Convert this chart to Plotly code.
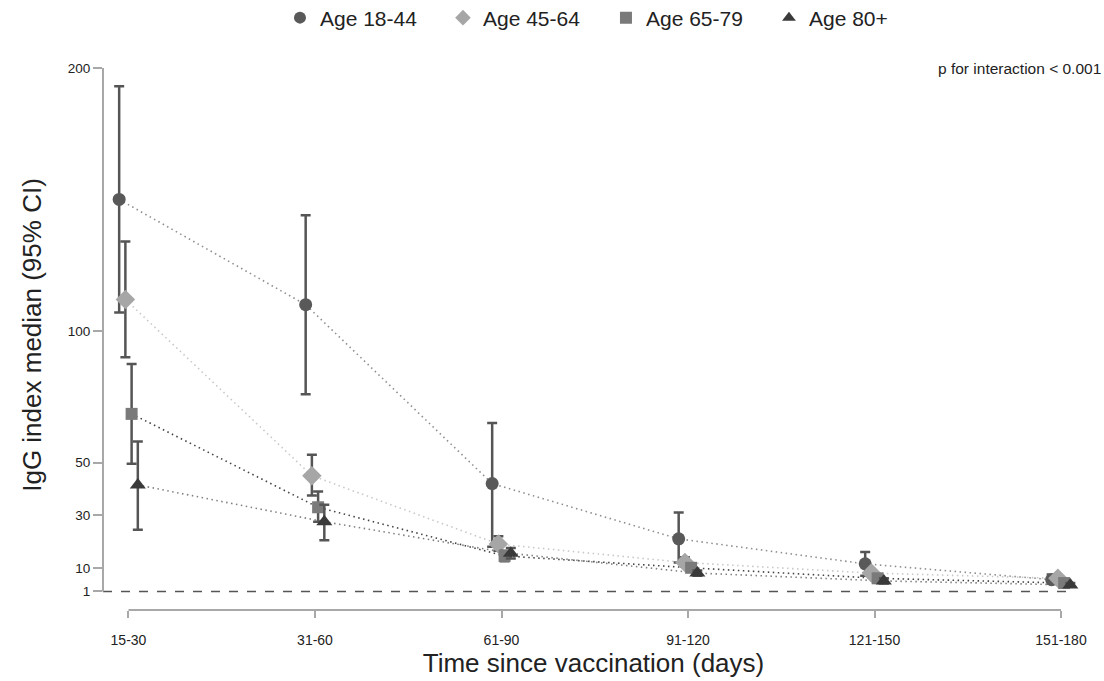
import plotly.graph_objects as go

categories = ["15-30", "31-60", "61-90", "91-120", "121-150", "151-180"]
series_names = ["Age 18-44", "Age 45-64", "Age 65-79", "Age 80+"]

med_18_44 = [150, 110, 42, 21, 11.5, 5.5]
lo_18_44 = [107, 76, 18, 12, 7, 4]
hi_18_44 = [193, 144, 65, 31, 16, 7.5]

med_45_64 = [112, 45, 19, 12, 8, 6]
lo_45_64 = [90, 37.5, 16.5, 10.5, 7, 5]
hi_45_64 = [134, 53, 22, 14, 9, 7]

med_65_79 = [68.5, 33, 14.5, 10, 6, 4.2]
lo_65_79 = [49.5, 27.5, 12.5, 8.5, 5, 3.5]
hi_65_79 = [87.5, 39, 16.5, 11.5, 7, 5]

med_80 = [41.5, 27.5, 15.5, 8, 5, 3.5]
lo_80 = [24.5, 20.5, 13.5, 7, 4, 2.8]
hi_80 = [58, 34, 17.5, 9, 6, 4.2]

y_ticks = [1, 10, 30, 50, 100, 200]

FONT = "Liberation Sans, Arial, sans-serif"

meds = [med_18_44, med_45_64, med_65_79, med_80]
los = [lo_18_44, lo_45_64, lo_65_79, lo_80]
his = [hi_18_44, hi_45_64, hi_65_79, hi_80]
offsets = [-0.05, -0.0167, 0.0167, 0.05]
symbols = ["circle", "diamond", "square", "triangle-up"]
marker_colors = ["#595959", "#a6a6a6", "#7a7a7a", "#3a3a3a"]
marker_sizes = [13, 15, 12, 14]
line_colors = ["#8e8e8e", "#c8c8c8", "#444444", "#808080"]

fig = go.Figure()
xs_base = list(range(len(categories)))

# dotted connecting lines
for i in range(4):
    xs = [x + offsets[i] for x in xs_base]
    fig.add_trace(go.Scatter(
        x=xs, y=meds[i], mode="lines",
        line=dict(color=line_colors[i], width=1.6, dash="1.5px,3.5px"),
        showlegend=False, hoverinfo="skip"))

# markers with error bars
for i in range(4):
    xs = [x + offsets[i] for x in xs_base]
    fig.add_trace(go.Scatter(
        x=xs, y=meds[i], mode="markers", name=series_names[i],
        marker=dict(symbol=symbols[i], size=marker_sizes[i], color=marker_colors[i]),
        error_y=dict(type="data", symmetric=False,
                     array=[h - m for h, m in zip(his[i], meds[i])],
                     arrayminus=[m - l for m, l in zip(meds[i], los[i])],
                     color="#555555", thickness=2.5, width=5)))

# reference dashed line at 1
fig.add_shape(type="line", xref="paper", yref="y", x0=0, x1=0.99, y0=1, y1=1,
              line=dict(color="#555555", width=1.5, dash="dash"))
# axis lines
fig.add_shape(type="line", xref="paper", yref="y", x0=0, x1=0, y0=1, y1=200,
              line=dict(color="#a8a8a8", width=2))
fig.add_shape(type="line", xref="x", yref="paper", x0=0, x1=5, y0=0, y1=0,
              line=dict(color="#a8a8a8", width=2))

fig.add_annotation(text="p for interaction < 0.001", xref="paper", yref="paper",
                   x=1.019, y=0.985, xanchor="right", yanchor="middle",
                   showarrow=False, font=dict(size=15.5, color="#222222", family=FONT))

fig.update_layout(
    width=1104, height=681,
    margin=dict(l=103, r=20, t=60, b=71, autoexpand=False),
    paper_bgcolor="white", plot_bgcolor="white",
    font=dict(family=FONT, color="#222222"),
    legend=dict(orientation="h", x=0.1804, xanchor="left", y=1.0764, yanchor="middle",
                font=dict(size=21, color="#222222", family=FONT),
                entrywidth=118, itemsizing="constant"),
    xaxis=dict(range=[-0.1367, 5.1233], tickvals=xs_base, ticktext=categories,
               showgrid=False, zeroline=False, showline=False, automargin=False,
               ticks="outside", ticklen=7, tickcolor="#a8a8a8", tickwidth=1.5,
               ticklabelstandoff=10,
               tickfont=dict(size=14, color="#222222"),
               title=dict(text="Time since vaccination (days)",
                          font=dict(size=26, color="#222222"), standoff=2)),
    yaxis=dict(range=[-6.04, 203.0], tickvals=y_ticks, ticktext=[str(v) for v in y_ticks],
               showgrid=False, zeroline=False, showline=False, automargin=False,
               ticks="outside", ticklen=9, tickcolor="#a8a8a8", tickwidth=1.5,
               tickfont=dict(size=13.5, color="#222222"),
               title=dict(text="IgG index median (95% CI)",
                          font=dict(size=26, color="#222222"), standoff=18)),
)

fig.write_html("out.html")
